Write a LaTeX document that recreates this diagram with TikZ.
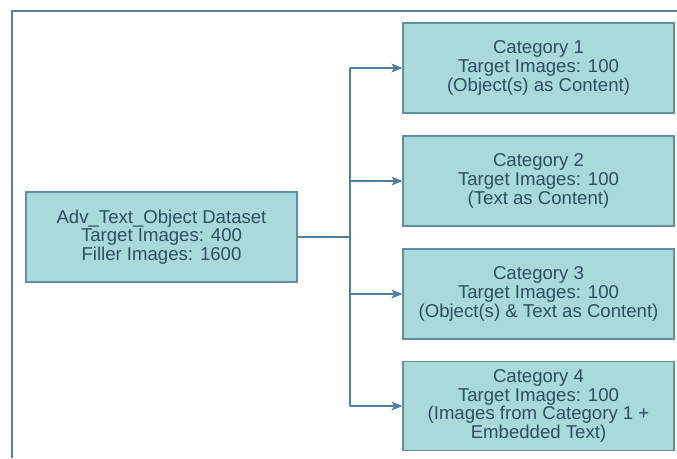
\documentclass[tikz,border=0pt]{standalone}
\usepackage{fontspec}
\setmainfont{Liberation Sans}
\usetikzlibrary{arrows.meta}
\definecolor{boxfill}{HTML}{A8D9DB}
\definecolor{boxdraw}{HTML}{5E8FA5}
\definecolor{txt}{HTML}{2E4F62}
\definecolor{conn}{HTML}{4F7F9E}
\definecolor{frame}{HTML}{5B7F95}
\tikzset{
  box/.style={draw=boxdraw, line width=1.2pt, fill=boxfill, text=txt, align=center,
    font=\fontsize{18.6}{18.8}\selectfont, inner sep=0pt},
  link/.style={draw=conn, line width=1.3pt},
  arr/.style={link, -{Stealth[length=11pt,width=9pt,inset=3pt]}}
}
\begin{document}
\begin{tikzpicture}[x=1pt,y=-1pt]
\useasboundingbox (0,0) rectangle (677,458);
\draw[frame, line width=1.4pt] (677,11) -- (12,11) -- (12,458);
\node[box, minimum width=271pt, minimum height=90pt] (src) at (161.5,237) {Adv\_Text\_Object Dataset\\Target Images: 400\\Filler Images: 1600};
\node[box, minimum width=271pt, minimum height=90pt] (c1) at (538.5,68) {Category 1\\Target Images: 100\\(Object(s) as Content)};
\node[box, minimum width=271pt, minimum height=90pt] (c2) at (538.5,181) {Category 2\\Target Images: 100\\(Text as Content)};
\node[box, minimum width=271pt, minimum height=90pt] (c3) at (538.5,294) {Category 3\\Target Images: 100\\(Object(s) \& Text as Content)};
\node[box, minimum width=271pt, minimum height=89pt] (c4) at (538.5,406) {Category 4\\Target Images: 100\\(Images from Category 1 +\\Embedded Text)};
\coordinate (j) at (350,237);
\coordinate (jt) at (350,68);
\coordinate (jb) at (350,406);
\draw[link] (src.east) -- (j);
\draw[link] (jt) -- (jb);
\draw[arr] (jt) -- (c1.west);
\draw[arr] (350,181) -- (c2.west);
\draw[arr] (350,294) -- (c3.west);
\draw[arr] (jb) -- (c4.west);
\end{tikzpicture}
\end{document}
